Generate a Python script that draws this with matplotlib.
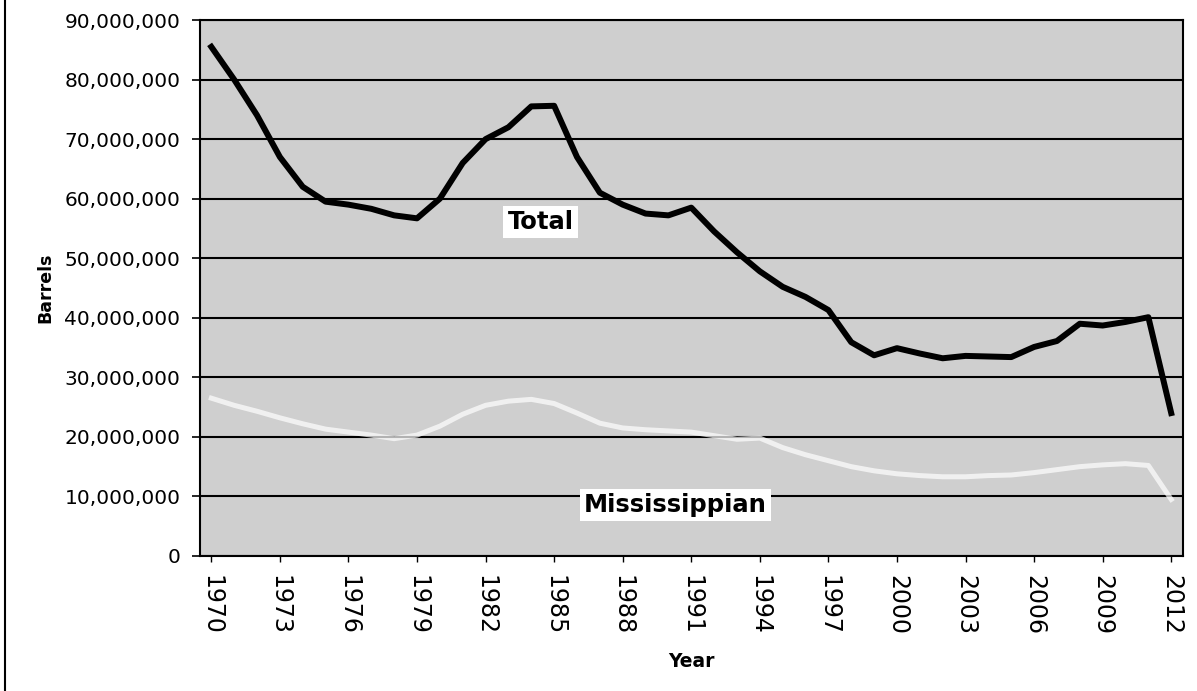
import numpy as np
import matplotlib
matplotlib.use('Agg')
import matplotlib.pyplot as plt
from matplotlib.ticker import FuncFormatter

# data (barrels per year)
Year = list(range(1970, 2013))
Total = [85.5, 80.0, 74.0, 67.0, 62.0, 59.5, 59.0, 58.3, 57.2, 56.7,
         60.0, 66.0, 70.0, 72.0, 75.5, 75.6, 67.0, 61.0, 59.0, 57.5,
         57.2, 58.5, 54.5, 51.0, 47.8, 45.2, 43.5, 41.3, 35.9, 33.7,
         34.9, 34.0, 33.2, 33.6, 33.5, 33.4, 35.1, 36.1, 39.0, 38.7,
         39.3, 40.1, 24.0]
Mississippian = [26.5, 25.3, 24.3, 23.2, 22.2, 21.3, 20.8, 20.3, 19.7, 20.3,
                 21.8, 23.8, 25.3, 26.0, 26.3, 25.6, 24.0, 22.3, 21.5, 21.2,
                 21.0, 20.8, 20.2, 19.6, 19.8, 18.2, 17.0, 16.0, 15.0, 14.3,
                 13.8, 13.5, 13.3, 13.3, 13.5, 13.6, 14.0, 14.5, 15.0, 15.3,
                 15.5, 15.2, 9.5]
Year_ticks = list(range(1970, 2013, 3))

Total = np.array(Total) * 1e6
Mississippian = np.array(Mississippian) * 1e6

fig = plt.figure(figsize=(11.97, 6.91), dpi=100)
ax = fig.add_axes([0.167, 0.1954, 0.821, 0.7756])
ax.set_facecolor('#cfcfcf')

# horizontal grid
ax.set_axisbelow(True)
ax.yaxis.grid(True, color='black', linewidth=1.5)

ax.plot(Year, Mississippian, color='white', linewidth=3.6, alpha=0.7, zorder=3)
ax.plot(Year, Total, color='black', linewidth=4.3, zorder=4,
        solid_joinstyle='round')

ax.set_xlim(1969.5, 2012.5)
ax.set_ylim(0, 90e6)
ax.set_yticks(np.arange(0, 90e6 + 1, 10e6))
ax.yaxis.set_major_formatter(FuncFormatter(lambda v, p: '{:,.0f}'.format(v)))
ax.set_xticks(Year_ticks)
ax.set_xticklabels([str(y) for y in Year_ticks], rotation=-90, fontsize=17)
ax.tick_params(axis='y', labelsize=14.5, length=6, width=1.2, pad=8)
ax.tick_params(axis='x', length=4, width=1, pad=10)

for s in ax.spines.values():
    s.set_linewidth(1.5)
    s.set_color('black')

ax.set_ylabel('Barrels', fontsize=12.5, fontweight='bold', labelpad=7)
ax.set_xlabel('Year', fontsize=13.5, fontweight='bold', labelpad=12)

box = dict(facecolor='white', edgecolor='none', pad=3)
ax.text(1984.4, 56.1e6, 'Total', fontsize=17.5, fontweight='bold',
        ha='center', va='center', bbox=box, zorder=5)
ax.text(1990.3, 8.6e6, 'Mississippian', fontsize=17.5, fontweight='bold',
        ha='center', va='center', bbox=box, zorder=5)

# left frame line of the scanned page
fig.add_artist(plt.Line2D([0.004, 0.004], [0, 1], color='black', linewidth=1.5))

plt.savefig('out.png', dpi=100)
